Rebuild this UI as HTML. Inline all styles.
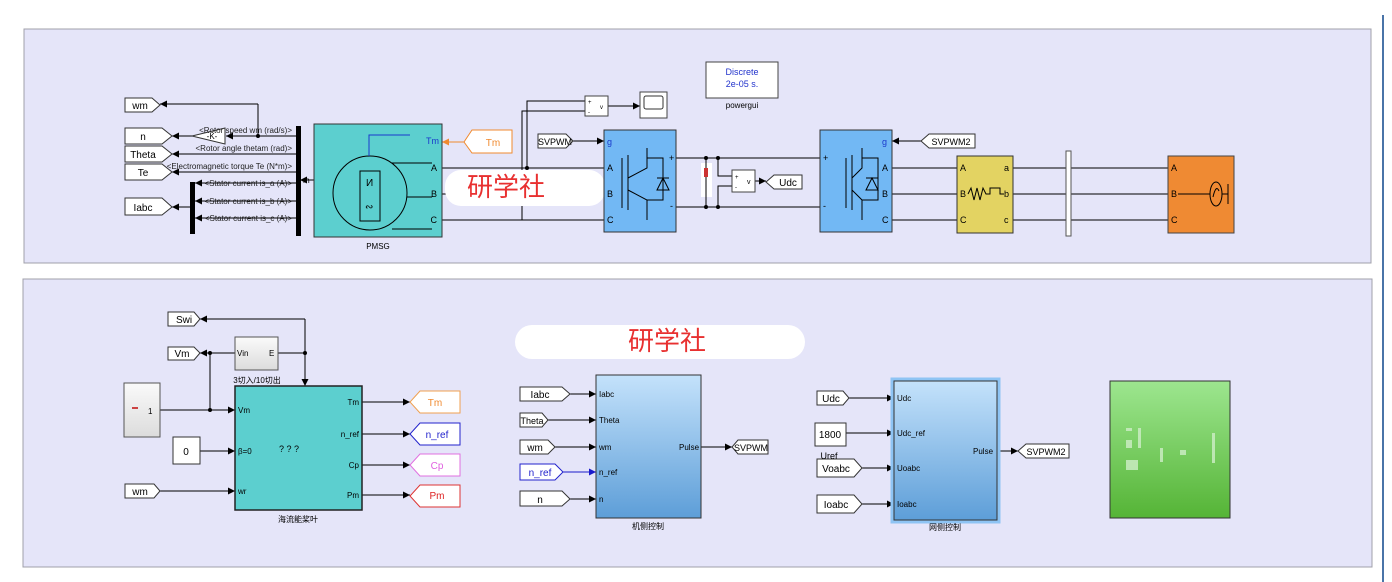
<!DOCTYPE html>
<html><head><meta charset="utf-8"><style>
html,body{margin:0;padding:0;background:#fff;}
svg{display:block;font-family:"Liberation Sans","Noto Sans CJK SC",sans-serif;}
</style></head><body>
<svg width="1392" height="582" viewBox="0 0 1392 582" xmlns="http://www.w3.org/2000/svg">
<defs>
<marker id="a" viewBox="0 0 10 10" refX="10" refY="5" markerWidth="7" markerHeight="7" orient="auto"><path d="M0,0L10,5L0,10z" fill="#000"/></marker>
<marker id="ab" viewBox="0 0 10 10" refX="10" refY="5" markerWidth="7" markerHeight="7" orient="auto"><path d="M0,0L10,5L0,10z" fill="#1a1acc"/></marker>
<marker id="ao" viewBox="0 0 10 10" refX="10" refY="5" markerWidth="7" markerHeight="7" orient="auto"><path d="M0,0L10,5L0,10z" fill="#f08a30"/></marker>
<linearGradient id="gb" x1="0" y1="0" x2="0" y2="1"><stop offset="0" stop-color="#c4e2fb"/><stop offset="1" stop-color="#5d9ed8"/></linearGradient>
<linearGradient id="gg" x1="0" y1="0" x2="0" y2="1"><stop offset="0" stop-color="#9de68f"/><stop offset="1" stop-color="#55b436"/></linearGradient>
<linearGradient id="gy" x1="0" y1="0" x2="0" y2="1"><stop offset="0" stop-color="#fafafa"/><stop offset="1" stop-color="#dcdcdc"/></linearGradient>
</defs>
<rect x="0" y="0" width="1392" height="582" fill="#fff"/>
<line x1="1383" y1="15" x2="1383" y2="582" stroke="#4a74a8" stroke-width="2"/>
<rect x="24" y="29" width="1347" height="234" fill="#e5e5f9" stroke="#a0a0aa"/>
<rect x="23" y="279" width="1349" height="288" fill="#e5e5f9" stroke="#a0a0aa"/>

<g stroke="#000" stroke-width="1" fill="none">
<line x1="258" y1="104" x2="160" y2="104" marker-end="url(#a)"/>
<line x1="258" y1="104" x2="258" y2="136"/>
<line x1="296" y1="136" x2="226" y2="136" marker-end="url(#a)"/>
<line x1="192" y1="136" x2="172" y2="136" marker-end="url(#a)"/>
<line x1="296" y1="154" x2="172" y2="154" marker-end="url(#a)"/>
<line x1="296" y1="172" x2="172" y2="172" marker-end="url(#a)"/>
<line x1="296" y1="183" x2="195" y2="183" marker-end="url(#a)"/>
<line x1="296" y1="201" x2="195" y2="201" marker-end="url(#a)"/>
<line x1="296" y1="218" x2="195" y2="218" marker-end="url(#a)"/>
<line x1="190" y1="207" x2="172" y2="207" marker-end="url(#a)"/>
<line x1="314" y1="180" x2="300" y2="180" marker-end="url(#a)"/>
<line x1="442" y1="168" x2="604" y2="168"/>
<line x1="442" y1="194" x2="604" y2="194"/>
<line x1="442" y1="220" x2="604" y2="220"/>
<polyline points="527,168 527,101 585,101"/>
<polyline points="522,220 522,111 585,111"/>
<line x1="608" y1="106" x2="640" y2="106" marker-end="url(#a)"/>
<line x1="573" y1="141" x2="604" y2="141" marker-end="url(#a)"/>
<line x1="676" y1="158" x2="820" y2="158"/>
<line x1="676" y1="207" x2="820" y2="207"/>
<polyline points="718,158 718,176 732,176"/>
<polyline points="718,207 718,186 732,186"/>
<line x1="755" y1="181" x2="766" y2="181" marker-end="url(#a)"/>
<line x1="921" y1="141" x2="892" y2="141" marker-end="url(#a)"/>
<line x1="892" y1="168" x2="957" y2="168"/><line x1="892" y1="194" x2="957" y2="194"/><line x1="892" y1="220" x2="957" y2="220"/>
<line x1="1013" y1="168" x2="1168" y2="168"/><line x1="1013" y1="194" x2="1168" y2="194"/><line x1="1013" y1="220" x2="1168" y2="220"/>
</g>
<g fill="#000"><circle cx="258" cy="136" r="2"/><circle cx="527" cy="168" r="2"/><circle cx="706" cy="158" r="2"/><circle cx="718" cy="158" r="2"/><circle cx="706" cy="207" r="2"/><circle cx="718" cy="207" r="2"/></g>
<line x1="464" y1="142" x2="442" y2="142" stroke="#f08a30" marker-end="url(#ao)"/>

<g stroke="#333" fill="#fff">
<path d="M125,98H152L160,105L152,112H125Z"/>
<path d="M125,128H162L172,136L162,144H125Z"/>
<path d="M125,146H162L172,154L162,162H125Z"/>
<path d="M125,164H162L172,172L162,180H125Z"/>
<path d="M125,198H162L172,207L162,215H125Z"/>
<path d="M538,134H566L573,141L566,148H538Z"/>
<path d="M929,134H975V148H929L921,141Z"/>
<path d="M774,175H802V189H774L766,182Z"/>
<path d="M472,130H512V153H472L464,142Z" stroke="#f08a30"/>
</g>
<g font-size="10" fill="#000" text-anchor="middle">
<text x="140" y="109">wm</text><text x="143" y="140">n</text><text x="143" y="158">Theta</text><text x="143" y="176">Te</text><text x="143" y="211">Iabc</text>
<text x="555" y="145" font-size="9">SVPWM</text><text x="951" y="145" font-size="9">SVPWM2</text><text x="788" y="186">Udc</text>
<text x="493" y="146" fill="#f08a30">Tm</text>
</g>
<path d="M225,128V144L192,136Z" fill="#fff" stroke="#333"/>
<text x="212" y="139" font-size="8" text-anchor="middle">-K-</text>
<g font-size="8" fill="#222" text-anchor="end">
<text x="292" y="133">&lt;Rotor speed wm (rad/s)&gt;</text>
<text x="292" y="151">&lt;Rotor angle thetam (rad)&gt;</text>
<text x="292" y="169">&lt;Electromagnetic torque Te (N*m)&gt;</text>
<text x="292" y="186">&lt;Stator current is_a (A)&gt;</text>
<text x="292" y="204">&lt;Stator current is_b (A)&gt;</text>
<text x="292" y="221">&lt;Stator current is_c (A)&gt;</text>
</g>
<rect x="296" y="126" width="5" height="110" fill="#000"/>
<rect x="190" y="182" width="5" height="52" fill="#000"/>
<text x="303" y="183" font-size="8">m</text>

<rect x="314" y="124" width="128" height="113" fill="#5ccfcf" stroke="#333"/>
<circle cx="370" cy="193" r="37" fill="none" stroke="#000"/>
<rect x="360" y="171" width="20" height="50" fill="none" stroke="#000"/>
<polyline points="369,156 369,135 410,135" fill="none" stroke="#1a3acc"/>
<line x1="392" y1="163" x2="432" y2="163" stroke="#000"/><line x1="407" y1="197" x2="432" y2="197" stroke="#000"/><line x1="392" y1="229" x2="432" y2="229" stroke="#000"/>
<text x="366" y="186" font-size="10">И</text><text x="365" y="210" font-size="10">∾</text>
<g font-size="9" text-anchor="end"><text x="439" y="144" fill="#1a3acc">Tm</text><text x="437" y="171">A</text><text x="437" y="197">B</text><text x="437" y="223">C</text></g>
<text x="378" y="249" font-size="8" text-anchor="middle">PMSG</text>
<rect x="445" y="170" width="160" height="36" rx="16" fill="#fff"/>
<text x="467" y="196" font-size="26" fill="#e83030" font-family="'Noto Sans CJK SC',sans-serif">研学社</text>

<rect x="585" y="96" width="23" height="20" fill="#fff" stroke="#444"/>
<text x="588" y="104" font-size="6">+</text><text x="588" y="114" font-size="6">-</text><text x="600" y="109" font-size="6">v</text>
<rect x="640" y="92" width="27" height="26" fill="#fff" stroke="#444"/>
<rect x="644" y="96" width="19" height="13" fill="#fff" stroke="#333" rx="2"/>
<rect x="706" y="62" width="72" height="36" fill="#fff" stroke="#444"/>
<text x="742" y="75" font-size="9" fill="#2233cc" text-anchor="middle">Discrete</text>
<text x="742" y="87" font-size="9" fill="#2233cc" text-anchor="middle">2e-05 s.</text>
<text x="742" y="108" font-size="8" text-anchor="middle">powergui</text>
<rect x="732" y="170" width="23" height="22" fill="#fff" stroke="#444"/>
<text x="735" y="179" font-size="6">+</text><text x="735" y="189" font-size="6">-</text><text x="747" y="184" font-size="7">v</text>
<rect x="701" y="163" width="11" height="34" fill="#fff"/>
<line x1="706" y1="158" x2="706" y2="207" stroke="#000"/>
<rect x="704" y="168" width="4" height="9" fill="#c33"/>

<g>
<rect x="604" y="130" width="72" height="102" fill="#72b8f4" stroke="#333"/>
<g stroke="#000" fill="none"><line x1="622" y1="158" x2="622" y2="208"/><line x1="628" y1="155" x2="628" y2="210"/><polyline points="647,148 647,168 628,178"/><polyline points="628,190 647,200 647,220"/><polyline points="647,158 663,158 663,200 647,200"/><path d="M657,190L663,178L669,190Z"/><line x1="657" y1="178" x2="669" y2="178"/></g>
<g font-size="9"><text x="607" y="145" fill="#1a3acc">g</text><text x="607" y="171">A</text><text x="607" y="197">B</text><text x="607" y="223">C</text><text x="669" y="161">+</text><text x="670" y="209">-</text></g>
</g>
<g>
<rect x="820" y="130" width="72" height="102" fill="#72b8f4" stroke="#333"/>
<g stroke="#000" fill="none"><line x1="846" y1="158" x2="846" y2="208"/><line x1="852" y1="155" x2="852" y2="210"/><polyline points="862,148 862,168 852,178"/><polyline points="852,190 862,200 862,220"/><polyline points="862,158 878,158 878,200 862,200"/><path d="M866,190L872,178L878,190Z"/><line x1="866" y1="178" x2="878" y2="178"/></g>
<g font-size="9"><text x="882" y="145" fill="#1a3acc">g</text><text x="882" y="171">A</text><text x="882" y="197">B</text><text x="882" y="223">C</text><text x="823" y="161">+</text><text x="823" y="209">-</text></g>
</g>
<rect x="957" y="156" width="56" height="77" fill="#e3d362" stroke="#333"/>
<g font-size="9"><text x="960" y="171">A</text><text x="960" y="197">B</text><text x="960" y="223">C</text><text x="1004" y="171">a</text><text x="1004" y="197">b</text><text x="1004" y="223">c</text></g>
<polyline points="968,194 971,188 974,200 977,188 980,200 983,188 986,194 990,194 990,188 1000,188 1000,194 1004,194" fill="none" stroke="#000"/>
<rect x="1066" y="151" width="5" height="85" fill="#fff" stroke="#555"/>
<rect x="1168" y="156" width="66" height="77" fill="#ef8a33" stroke="#444"/>
<g font-size="9"><text x="1171" y="171">A</text><text x="1171" y="197">B</text><text x="1171" y="223">C</text></g>
<line x1="1178" y1="194" x2="1210" y2="194" stroke="#000"/>
<ellipse cx="1216" cy="194" rx="6" ry="12" fill="none" stroke="#000"/>
<path d="M1213,197Q1216,184 1219,191" fill="none" stroke="#000"/>
<line x1="1222" y1="194" x2="1228" y2="194" stroke="#000"/><line x1="1228" y1="184" x2="1228" y2="204" stroke="#000"/>

<g stroke="#000" fill="none">
<line x1="305" y1="319" x2="200" y2="319" marker-end="url(#a)"/>
<line x1="305" y1="319" x2="305" y2="386" marker-end="url(#a)"/>
<line x1="278" y1="353" x2="305" y2="353"/>
<line x1="235" y1="353" x2="200" y2="353" marker-start="url(#a)" marker-end="url(#a)"/>
<line x1="210" y1="353" x2="210" y2="410"/>
<line x1="160" y1="410" x2="235" y2="410" marker-end="url(#a)"/>
<line x1="200" y1="451" x2="235" y2="451" marker-end="url(#a)"/>
<line x1="160" y1="491" x2="235" y2="491" marker-end="url(#a)"/>
<line x1="362" y1="402" x2="410" y2="402" marker-end="url(#a)"/>
<line x1="362" y1="434" x2="410" y2="434" marker-end="url(#a)"/>
<line x1="362" y1="465" x2="410" y2="465" marker-end="url(#a)"/>
<line x1="362" y1="495" x2="410" y2="495" marker-end="url(#a)"/>
<line x1="570" y1="394" x2="596" y2="394" marker-end="url(#a)"/>
<line x1="548" y1="420" x2="596" y2="420" marker-end="url(#a)"/>
<line x1="555" y1="447" x2="596" y2="447" marker-end="url(#a)"/>
<line x1="563" y1="472" x2="596" y2="472" stroke="#1a1acc" marker-end="url(#ab)"/>
<line x1="570" y1="499" x2="596" y2="499" marker-end="url(#a)"/>
<line x1="701" y1="447" x2="732" y2="447" marker-end="url(#a)"/>
<line x1="849" y1="398" x2="894" y2="398" marker-end="url(#a)"/>
<line x1="846" y1="433" x2="894" y2="433" marker-end="url(#a)"/>
<line x1="862" y1="468" x2="894" y2="468" marker-end="url(#a)"/>
<line x1="862" y1="504" x2="894" y2="504" marker-end="url(#a)"/>
<line x1="997" y1="451" x2="1018" y2="451" marker-end="url(#a)"/>
</g>
<g fill="#000"><circle cx="210" cy="353" r="2"/><circle cx="305" cy="353" r="2"/><circle cx="210" cy="410" r="2"/></g>
<g stroke="#333" fill="#fff">
<path d="M168,312H194L200,319L194,326H168Z"/>
<path d="M168,347H194L200,353L194,360H168Z"/>
<path d="M125,484H154L160,491L154,498H125Z"/>
<rect x="173" y="437" width="27" height="27"/>
<path d="M420,391H460V413H420L410,402Z" stroke="#f0a050"/>
<path d="M420,423H460V445H420L410,434Z" stroke="#2222cc"/>
<path d="M420,454H460V476H420L410,465Z" stroke="#e070e0"/>
<path d="M420,485H460V507H420L410,496Z" stroke="#dd3333"/>
<path d="M520,387H562L570,394L562,401H520Z"/>
<path d="M520,413H542L548,420L542,427H520Z"/>
<path d="M520,440H548L555,447L548,454H520Z"/>
<path d="M520,464H555L563,472L555,480H520Z" stroke="#2222cc"/>
<path d="M520,491H562L570,499L562,506H520Z"/>
<path d="M738,440H768V454H738L732,447Z"/>
<path d="M817,391H843L849,398L843,405H817Z"/>
<rect x="815" y="423" width="31" height="23"/>
<path d="M817,459H854L862,468L854,477H817Z"/>
<path d="M817,495H854L862,504L854,513H817Z"/>
<path d="M1026,444H1069V458H1026L1018,451Z"/>
</g>
<rect x="124" y="383" width="36" height="54" fill="url(#gy)" stroke="#555"/>
<text x="148" y="414" font-size="8">1</text><rect x="132" y="407" width="6" height="2" fill="#c44"/>
<rect x="235" y="337" width="43" height="33" fill="url(#gy)" stroke="#555"/>
<g font-size="10" text-anchor="middle">
<text x="184" y="323">Swi</text><text x="182" y="357">Vm</text><text x="140" y="495">wm</text><text x="186" y="455">0</text>
<text x="435" y="406" fill="#f08a30">Tm</text><text x="437" y="438" fill="#2222cc">n_ref</text><text x="437" y="469" fill="#e060e0">Cp</text><text x="437" y="499" fill="#dd2222">Pm</text>
<text x="540" y="398">Iabc</text><text x="532" y="424" font-size="9">Theta</text><text x="535" y="451">wm</text><text x="540" y="476" fill="#2222cc">n_ref</text><text x="540" y="503">n</text>
<text x="751" y="451" font-size="9">SVPWM</text><text x="831" y="402">Udc</text><text x="830" y="438">1800</text><text x="836" y="472">Voabc</text><text x="836" y="508">Ioabc</text><text x="1046" y="455" font-size="9">SVPWM2</text>
</g>
<text x="237" y="356" font-size="8">Vin</text><text x="269" y="356" font-size="8">E</text>
<text x="257" y="383" font-size="8" text-anchor="middle">3切入/10切出</text>
<text x="829" y="459" font-size="9" text-anchor="middle">Uref</text>
<rect x="235" y="386" width="127" height="124" fill="#5ccfcf" stroke="#222" stroke-width="1.5"/>
<g font-size="8"><text x="238" y="413">Vm</text><text x="238" y="454">β=0</text><text x="238" y="494">wr</text></g>
<g font-size="8" text-anchor="end"><text x="359" y="405">Tm</text><text x="359" y="437">n_ref</text><text x="359" y="468">Cp</text><text x="359" y="498">Pm</text></g>
<text x="289" y="452" font-size="9" text-anchor="middle">? ? ?</text>
<text x="298" y="522" font-size="8" text-anchor="middle">海流能桨叶</text>
<rect x="596" y="375" width="105" height="143" fill="url(#gb)" stroke="#333"/>
<g font-size="8"><text x="599" y="397">Iabc</text><text x="599" y="423">Theta</text><text x="599" y="450">wm</text><text x="599" y="475">n_ref</text><text x="599" y="502">n</text><text x="679" y="450">Pulse</text></g>
<text x="648" y="529" font-size="8" text-anchor="middle">机侧控制</text>
<rect x="892" y="379" width="107" height="143" fill="none" stroke="#8ec4f4" stroke-width="3"/>
<rect x="894" y="381" width="103" height="139" fill="url(#gb)" stroke="#333"/>
<g font-size="8"><text x="897" y="401">Udc</text><text x="897" y="436">Udc_ref</text><text x="897" y="471">Uoabc</text><text x="897" y="507">Ioabc</text><text x="973" y="454">Pulse</text></g>
<text x="945" y="530" font-size="8" text-anchor="middle">网侧控制</text>
<rect x="1110" y="381" width="120" height="137" fill="url(#gg)" stroke="#333"/>
<g fill="#cfeec8" opacity="0.8"><rect x="1126" y="428" width="6" height="3"/><rect x="1126" y="440" width="6" height="8"/><rect x="1138" y="428" width="3" height="20"/><rect x="1160" y="448" width="3" height="14"/><rect x="1180" y="450" width="6" height="5"/><rect x="1212" y="433" width="3" height="30"/><rect x="1126" y="460" width="12" height="10"/></g>
<rect x="515" y="325" width="290" height="34" rx="17" fill="#fff"/>
<text x="628" y="350" font-size="26" fill="#e83030" font-family="'Noto Sans CJK SC',sans-serif">研学社</text>
</svg>
</body></html>
